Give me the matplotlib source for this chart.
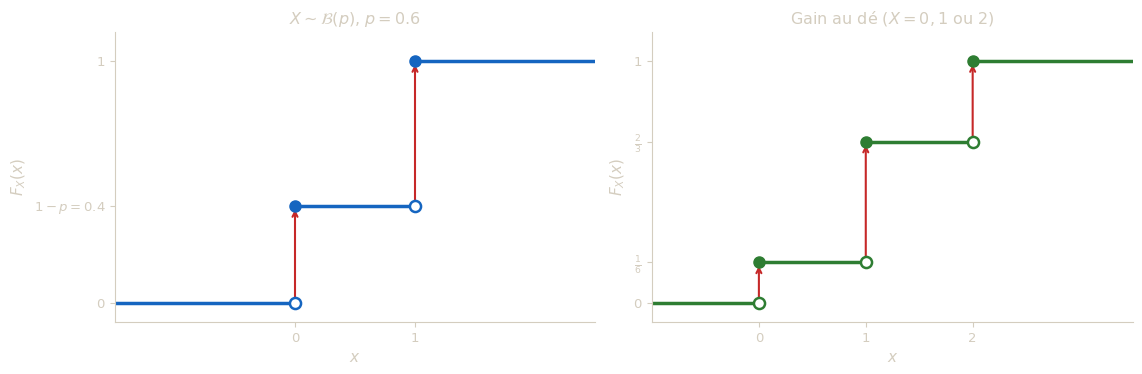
import matplotlib.pyplot as plt
import numpy as np

# data
bern_jumps = [0, 1]
bern_levels = [0, 0.4, 1]
bern_yticks = [0, 0.4, 1]
bern_yticklabels = ['$0$', '$1-p=0.4$', '$1$']

de_jumps = [0, 1, 2]
de_levels = [0, 1/6, 2/3, 1]
de_yticks = [0, 1/6, 2/3, 1]
de_yticklabels = ['$0$', r'$\frac{1}{6}$', r'$\frac{2}{3}$', '$1$']

txt = '#d4cdbf'
spine = '#d4cdbf'
red = '#c62828'


def cdf_panel(ax, jumps, levels, xlim, color, title, yticks, yticklabels):
    ax.set_xlim(*xlim)
    ax.set_ylim(-0.08, 1.12)
    # horizontal steps
    edges = [xlim[0]] + list(jumps) + [xlim[1]]
    for i, lev in enumerate(levels):
        ax.plot([edges[i], edges[i + 1]], [lev, lev], color=color, lw=2.5, zorder=2)
    # jump arrows
    for i, xj in enumerate(jumps):
        ax.annotate('', xy=(xj, levels[i + 1]), xytext=(xj, levels[i]),
                    arrowprops=dict(arrowstyle='->', color=red, lw=1.5,
                                    shrinkA=3, shrinkB=2.5, mutation_scale=9),
                    zorder=3)
    # open circles (left limits) and filled circles (values)
    ax.plot(jumps, levels[:-1], 'o', ms=8, mfc='white', mec=color, mew=1.8, zorder=4)
    ax.plot(jumps, levels[1:], 'o', ms=8, color=color, zorder=5)

    ax.set_xticks(jumps)
    ax.set_xticklabels([str(j) for j in jumps])
    ax.set_yticks(yticks)
    ax.set_yticklabels(yticklabels)
    ax.set_title(title, color=txt, fontsize=11.5)
    ax.set_xlabel('$x$', color=txt, fontsize=11)
    ax.set_ylabel('$F_X(x)$', color=txt, fontsize=11)
    ax.tick_params(colors=txt, labelcolor=txt, labelsize=9.5)
    for s in ['top', 'right']:
        ax.spines[s].set_visible(False)
    for s in ['left', 'bottom']:
        ax.spines[s].set_color(spine)


fig = plt.figure(figsize=(11.42, 3.74), dpi=100)
ax1 = fig.add_axes([115/1142, 1 - 322/374, 480/1142, 290/374])
ax2 = fig.add_axes([652/1142, 1 - 322/374, 481/1142, 290/374])

cdf_panel(ax1, bern_jumps, bern_levels, (-1.5, 2.5), '#1565c0',
          r'$X \sim \mathcal{B}(p)$, $p=0.6$', bern_yticks, bern_yticklabels)
cdf_panel(ax2, de_jumps, de_levels, (-1.0, 3.5), '#2e7d32',
          r'Gain au dé ($X = 0, 1$ ou $2$)', de_yticks, de_yticklabels)

fig.savefig('out.png', dpi=100)
